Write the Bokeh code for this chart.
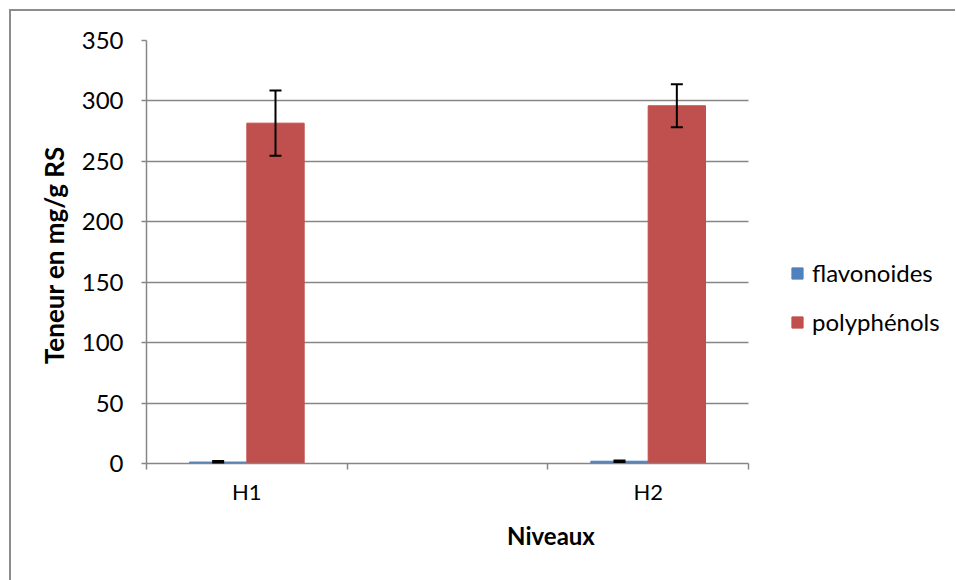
import numpy as np
from bokeh.plotting import figure
from bokeh.models import (ColumnDataSource, Range1d, FixedTicker, Whisker, TeeHead,
                          Legend, LegendItem, Title)
from bokeh.embed import file_html
from bokeh.resources import INLINE

# ---- data ----
categories = ["H1", "", "H2"]
flavonoides = [1.2, np.nan, 1.9]
flavonoides_err = [0.8, np.nan, 0.6]
polyphenols = [281.6, np.nan, 296.0]
polyphenols_err = [27.0, np.nan, 17.7]
y_ticks = [0, 50, 100, 150, 200, 250, 300, 350]
series_names = ["flavonoides", "polyphénols"]
series_colors = ["#4F81BD", "#C0504D"]
x_title = "Niveaux"
y_title = "Teneur  en mg/g RS"

FONT = "Lato"
GRAY = "#868686"

n = len(categories)
bar_w = 1 / 3.5
offsets = [-bar_w / 2, bar_w / 2]

DATA_W = 602      # pixel width of the category area
EXTRA_W = 207     # room to the right for the legend
FRAME_W = DATA_W + EXTRA_W


def make_source(vals, errs, off):
    xs, tops, ups, los = [], [], [], []
    for i, (v, e) in enumerate(zip(vals, errs)):
        if np.isnan(v):
            continue
        xs.append(i + 0.5 + off)
        tops.append(v)
        ups.append(v + e)
        los.append(v - e)
    return ColumnDataSource(dict(x=xs, top=tops, upper=ups, lower=los))


p = figure(frame_width=FRAME_W, frame_height=423,
           x_range=Range1d(0, n * FRAME_W / DATA_W),
           y_range=Range1d(0, 350),
           output_backend="svg", toolbar_location=None,
           min_border_left=135, min_border_right=0, min_border_top=29,
           min_border_bottom=117)
p.margin = (9, 0, 0, 9)
p.outline_line_color = None
p.background_fill_color = "white"
p.border_fill_color = "white"
p.styles = {"border-left": "2px solid #8c8c8c", "border-top": "2px solid #8c8c8c"}

items = []
for vals, errs, off, name, col in zip([flavonoides, polyphenols],
                                       [flavonoides_err, polyphenols_err],
                                       offsets, series_names, series_colors):
    src = make_source(vals, errs, off)
    r = p.vbar(x="x", top="top", width=bar_w, source=src, fill_color=col,
               line_color=col)
    items.append(LegendItem(label=name, renderers=[r]))
    w = Whisker(base="x", upper="upper", lower="lower", source=src,
                line_color="black", line_width=2, level="annotation",
                upper_head=TeeHead(size=12, line_width=2, line_color="black"),
                lower_head=TeeHead(size=12, line_width=2, line_color="black"))
    p.add_layout(w)

# y axis
p.yaxis.ticker = FixedTicker(ticks=y_ticks)
p.yaxis.axis_line_color = GRAY
p.yaxis.axis_line_width = 1.5
p.yaxis.major_tick_line_color = GRAY
p.yaxis.major_tick_line_width = 1.5
p.yaxis.major_tick_out = 5
p.yaxis.major_tick_in = 0
p.yaxis.minor_tick_line_color = None
p.yaxis.major_label_text_font = FONT
p.yaxis.major_label_text_font_size = "24px"
p.yaxis.major_label_text_color = "black"
p.yaxis.major_label_standoff = 18
p.yaxis.axis_label = y_title
p.yaxis.axis_label_text_font = FONT
p.yaxis.axis_label_text_font_size = "26px"
p.yaxis.axis_label_text_font_style = "bold"
p.yaxis.axis_label_text_color = "black"
p.yaxis.axis_label_standoff = 9

# x axis: labels at category centres, ticks at category boundaries
label_pos = [i + 0.5 for i, c in enumerate(categories) if c]
p.xaxis.bounds = (0, n)
p.xaxis.ticker = FixedTicker(ticks=label_pos, minor_ticks=list(range(n + 1)))
p.xaxis.major_label_overrides = {i + 0.5: c for i, c in enumerate(categories) if c}
p.xaxis.major_tick_line_color = None
p.xaxis.minor_tick_line_color = GRAY
p.xaxis.minor_tick_line_width = 1.5
p.xaxis.minor_tick_out = 6
p.xaxis.minor_tick_in = 0
p.xaxis.axis_line_color = GRAY
p.xaxis.axis_line_width = 1.5
p.xaxis.major_label_text_font = FONT
p.xaxis.major_label_text_font_size = "22px"
p.xaxis.major_label_text_color = "black"
p.xaxis.major_label_standoff = 8

# x-axis title, centred under the category area (not under the legend room)
xt = Title(text=x_title, align="center", offset=-EXTRA_W / 2,
           text_font=FONT, text_font_size="24px", text_font_style="bold",
           text_color="black", standoff=22)
p.add_layout(xt, "below")

p.xgrid.grid_line_color = None
p.ygrid.ticker = FixedTicker(ticks=y_ticks)
p.ygrid.cross_bounds = (0, n)
p.ygrid.grid_line_color = GRAY
p.ygrid.grid_line_width = 1.5

legend = Legend(items=items, location=(644, 127), orientation="vertical",
                glyph_width=14, glyph_height=14, spacing=20,
                label_text_font=FONT, label_text_font_size="24px",
                label_text_color="black", padding=0, margin=0,
                border_line_color=None, background_fill_alpha=0,
                label_standoff=8)
p.add_layout(legend, "center")

open("out.html", "w").write(file_html(p, INLINE))
